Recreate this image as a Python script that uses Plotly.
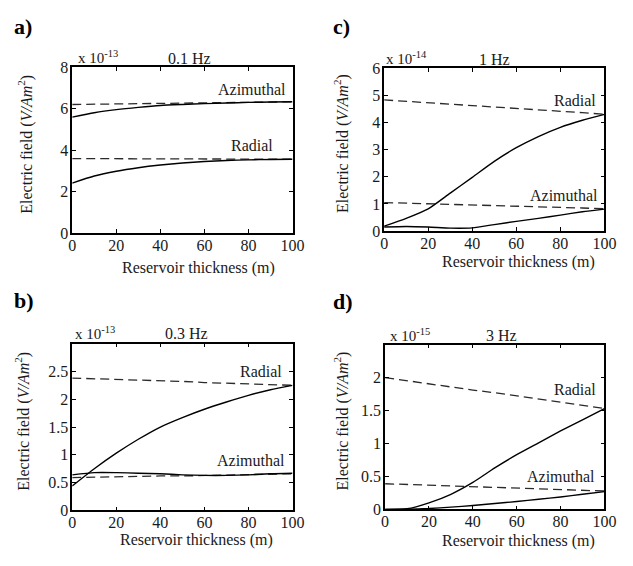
import plotly.graph_objects as go

# ---------------- data ----------------
thickness = [0, 10, 20, 30, 40, 50, 60, 70, 80, 90, 100]

# a) 0.1 Hz (x 1e-13)
a_az_solid = [5.59, 5.80, 5.95, 6.06, 6.15, 6.20, 6.24, 6.27, 6.30, 6.32, 6.33]
a_az_dash = [6.20, 6.21, 6.22, 6.23, 6.24, 6.25, 6.27, 6.28, 6.30, 6.31, 6.33]
a_rad_solid = [2.41, 2.75, 2.98, 3.15, 3.28, 3.38, 3.45, 3.50, 3.53, 3.55, 3.56]
a_rad_dash = [3.59, 3.59, 3.58, 3.58, 3.58, 3.57, 3.57, 3.57, 3.56, 3.56, 3.56]

# c) 1 Hz (x 1e-14)
c_rad_dash = [4.83, 4.78, 4.73, 4.68, 4.63, 4.57, 4.52, 4.47, 4.41, 4.36, 4.30]
c_rad_solid = [0.18, 0.47, 0.82, 1.40, 1.98, 2.57, 3.07, 3.48, 3.82, 4.08, 4.30]
c_az_dash = [1.05, 1.03, 1.01, 0.98, 0.96, 0.93, 0.91, 0.89, 0.87, 0.85, 0.82]
c_az_solid = [0.15, 0.17, 0.15, 0.11, 0.12, 0.24, 0.36, 0.47, 0.59, 0.71, 0.81]

# b) 0.3 Hz (x 1e-13)
b_rad_dash = [2.38, 2.37, 2.36, 2.34, 2.33, 2.32, 2.30, 2.29, 2.28, 2.26, 2.25]
b_rad_solid = [0.44, 0.75, 1.03, 1.28, 1.50, 1.67, 1.82, 1.95, 2.07, 2.17, 2.25]
b_az_solid = [0.64, 0.68, 0.68, 0.67, 0.66, 0.64, 0.63, 0.63, 0.64, 0.66, 0.67]
b_az_dash = [0.59, 0.60, 0.60, 0.61, 0.62, 0.62, 0.63, 0.64, 0.65, 0.66, 0.66]

# d) 3 Hz (x 1e-15)
d_rad_dash = [2.00, 1.95, 1.91, 1.86, 1.81, 1.77, 1.72, 1.67, 1.63, 1.58, 1.53]
d_rad_solid = [0.0, 0.01, 0.10, 0.23, 0.41, 0.63, 0.83, 1.01, 1.19, 1.36, 1.53]
d_az_dash = [0.39, 0.38, 0.37, 0.36, 0.35, 0.34, 0.33, 0.32, 0.31, 0.30, 0.28]
d_az_solid = [0.0, 0.005, 0.015, 0.035, 0.06, 0.09, 0.12, 0.155, 0.19, 0.23, 0.27]

x_ticks = [0, 20, 40, 60, 80, 100]
panels = [
    dict(ax="", letter="a)", freq="0.1 Hz", exp="-13", yr=[0, 8], yt=[0, 2, 4, 6, 8],
         solid=[a_az_solid, a_rad_solid], dash=[a_az_dash, a_rad_dash],
         labels=[("Azimuthal", 97.8, 6.92), ("Radial", 92.0, 4.21)]),
    dict(ax="2", letter="c)", freq="1 Hz", exp="-14", yr=[0, 6], yt=[0, 1, 2, 3, 4, 5, 6],
         solid=[c_rad_solid, c_az_solid], dash=[c_rad_dash, c_az_dash],
         labels=[("Radial", 96.9, 4.82), ("Azimuthal", 98.2, 1.32)]),
    dict(ax="3", letter="b)", freq="0.3 Hz", exp="-13", yr=[0, 3], yt=[0, 0.5, 1, 1.5, 2, 2.5],
         solid=[b_rad_solid, b_az_solid], dash=[b_rad_dash, b_az_dash],
         labels=[("Radial", 96.0, 2.49), ("Azimuthal", 97.3, 0.89)]),
    dict(ax="4", letter="d)", freq="3 Hz", exp="-15", yr=[0, 2.5], yt=[0, 0.5, 1, 1.5, 2],
         solid=[d_rad_solid, d_az_solid], dash=[d_rad_dash, d_az_dash],
         labels=[("Radial", 96.9, 1.82), ("Azimuthal", 96.4, 0.5)]),
]

W, H = 633, 566
boxes = {"": (70, 296, 61, 232), "2": (390, 616, 62, 230),
         "3": (70, 296, 346, 518), "4": (391, 616, 347, 517)}
ytitle_x = {"": 22, "2": 347, "3": 19, "4": 346}
xtitle_pos = {"": (200, 268), "2": (528, 262), "3": (198, 548), "4": (528, 549)}
letter_pos = {"": (8, 19), "2": (335, 19), "3": (8, 302), "4": (335, 303)}
mult_pos = {"": (74, 51, 190), "2": (390, 52, 503), "3": (71, 335, 187), "4": (394, 337, 510)}

FONT = "Liberation Serif, Times New Roman, serif"
INK = "#1a1a1a"
FS = 16
fig = go.Figure()
annotations = []


def px(x):
    return x / W


def py(y):
    return 1 - y / H


for p in panels:
    k = p["ax"]
    xa, ya = "x" + k, "y" + k
    for ys in p["dash"]:
        fig.add_trace(go.Scatter(x=thickness, y=ys, mode="lines", xaxis=xa, yaxis=ya,
                                 line=dict(color="#2a2a2a", width=1.3, dash="9px,5px"),
                                 showlegend=False, hoverinfo="skip"))
    for ys in p["solid"]:
        fig.add_trace(go.Scatter(x=thickness, y=ys, mode="lines", xaxis=xa, yaxis=ya,
                                 line=dict(color="black", width=1.4, shape="spline", smoothing=0.6),
                                 showlegend=False, hoverinfo="skip"))
    l, r, t, b = boxes[k]
    axstyle = dict(showline=True, linecolor="black", linewidth=1.6, mirror="ticks",
                   ticks="inside", ticklen=4, tickcolor="black", tickwidth=1,
                   showgrid=False, zeroline=False,
                   tickfont=dict(family=FONT, size=FS, color=INK), fixedrange=True)
    fig.layout["xaxis" + k] = dict(domain=[px(l), px(r)], range=[0, 100], tickvals=x_ticks,
                                   anchor=ya, ticklabelstandoff=-3, **axstyle)
    fig.layout["yaxis" + k] = dict(domain=[py(b), py(t)], range=p["yr"], tickvals=p["yt"],
                                   anchor=xa, ticklabelstandoff=-1, **axstyle)
    for txt, xx, yy in p["labels"]:
        annotations.append(dict(text=txt, x=xx, y=yy, xref=xa, yref=ya, xanchor="right",
                                yanchor="middle", showarrow=False,
                                font=dict(family=FONT, size=FS, color=INK)))
    lx, ly = letter_pos[k]
    annotations.append(dict(text="<b>" + p["letter"] + "</b>", x=px(lx), y=py(ly), xref="paper",
                            yref="paper", xanchor="left", yanchor="middle", showarrow=False,
                            font=dict(family=FONT, size=22, color="black")))
    mx, my, fx = mult_pos[k]
    annotations.append(dict(text="x 10<sup>" + p["exp"] + "</sup>", x=px(mx), y=py(my),
                            xref="paper", yref="paper", xanchor="left", yanchor="middle",
                            showarrow=False, font=dict(family=FONT, size=15, color=INK)))
    annotations.append(dict(text=p["freq"], x=px(fx), y=py(my + 1), xref="paper", yref="paper",
                            xanchor="center", yanchor="middle", showarrow=False,
                            font=dict(family=FONT, size=FS, color=INK)))
    annotations.append(dict(text="Electric field (<i>V/Am</i><sup>2</sup>)",
                            x=px(ytitle_x[k]), y=py((t + b) / 2 - 6), xref="paper", yref="paper",
                            xanchor="center", yanchor="middle", textangle=-90, showarrow=False,
                            font=dict(family=FONT, size=FS, color=INK)))
    tx, ty = xtitle_pos[k]
    annotations.append(dict(text="Reservoir thickness (m)", x=px(tx), y=py(ty), xref="paper",
                            yref="paper", xanchor="center", yanchor="middle", showarrow=False,
                            font=dict(family=FONT, size=FS, color=INK)))

fig.update_layout(width=W, height=H, margin=dict(l=0, r=0, t=0, b=0),
                  paper_bgcolor="white", plot_bgcolor="white",
                  annotations=annotations, showlegend=False)

fig.write_html("out.html",
               post_script="document.body.style.margin='0';document.body.style.overflow='hidden';")
